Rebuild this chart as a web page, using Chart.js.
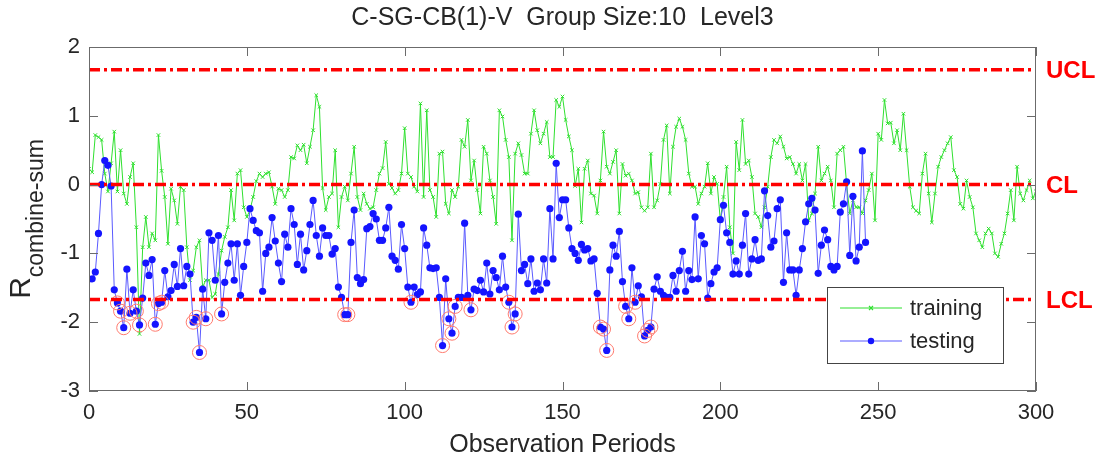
<!DOCTYPE html>
<html>
<head>
<meta charset="utf-8">
<script src="https://cdn.jsdelivr.net/npm/chart.js@4.4.1/dist/chart.umd.min.js"></script>
<style>
  html, body { margin: 0; padding: 0; background: #fff; }
  #wrap { width: 1106px; height: 462px; }
</style>
</head>
<body>
<div id="wrap"><canvas id="chart" width="1106" height="462"></canvas></div>
<script>
const titleText = 'C-SG-CB(1)-V  Group Size:10  Level3';
const xTitle = 'Observation Periods';
const yTitleMain = 'R';
const yTitleSub = 'combine-sum';

// training series, one value per period starting at period 0
const trainingStart = 0;
const trainingValues = [
  0.23, 0.18, 0.72, 0.69, 0.65, 0.16, -0.10, 0.31, 0.77, -0.10,
  0.50, -0.13, -0.28, 0.11, 0.31, -0.62, -2.17, -0.91, -0.47, -0.91,
  -0.71, -0.81, 0.72, 0.20, -0.18, -0.86, -0.06, -0.23, -0.57, -0.03,
  -0.08, -0.91, -1.39, -1.25, -0.91, -0.81, -1.49, -1.39, -1.39, -1.64,
  -1.59, -1.30, -0.96, -0.76, -0.62, -0.08, -0.52, 0.16, 0.21, -0.33,
  -0.47, -0.37, -0.18, 0.05, 0.16, 0.11, 0.16, 0.18, -0.03, -0.28,
  -0.06, -0.08, -0.18, -0.08, 0.40, 0.38, 0.57, 0.50, 0.58, 0.31,
  0.55, 0.79, 1.30, 1.13, -0.05, -0.37, -0.18, -0.13, 0.50, -0.62,
  -0.18, -0.03, -0.23, 0.16, 0.55, -0.18, -0.37, -0.13, -0.28, -0.35,
  -0.33, -0.08, 0.16, 0.24, 0.62, 0.01, -0.05, -0.13, -0.08, 0.16,
  0.82, 0.16, 0.11, -0.03, -0.10, 1.18, -0.18, 1.08, -0.08, -0.18,
  -0.47, 0.45, 0.48, -0.28, -0.42, -0.08, -0.18, -0.03, 0.65, 0.55,
  0.94, 0.06, 0.35, -0.08, -0.42, 0.55, 0.45, 0.06, -0.18, -0.57,
  1.08, 0.99, 0.65, 0.40, -0.81, 0.45, 0.60, 0.43, 0.16, 0.16,
  0.74, 1.08, 0.79, 0.60, 0.74, 0.91, 0.40, 0.40, 1.23, 1.13,
  1.28, 0.94, 0.70, 0.50, -0.02, 0.23, -0.55, 0.23, 0.35, -0.13,
  -0.16, -0.42, 0.06, 0.77, 0.26, 0.16, 0.33, 0.50, -0.42, 0.30,
  0.13, 0.16, 0.06, -0.13, -0.11, -0.33, -0.38, -0.33, 0.45, -0.33,
  -0.23, 0.01, 0.65, 0.86, -0.13, 0.55, 0.84, 0.96, 0.84, 0.65,
  0.16, -0.03, -0.03, -0.28, -0.13, -0.03, 0.31, -0.13, 0.11, 0.01,
  -0.52, -0.18, 0.26, -0.62, -1.00, 0.62, 0.21, 0.94, 0.30, 0.35,
  0.11, -0.42, -0.47, -0.62, -0.33, -0.03, 0.40, 0.65, 0.60, 0.70,
  0.55, 0.38, 0.40, 0.30, 0.16, 0.30, 0.06, 0.30, -0.52, -0.42,
  -0.13, 0.55, 0.06, 0.16, 0.26, 0.06, -0.33, 0.45, 0.50, 0.55,
  0.01, -0.42, -0.23, -0.33, -0.33, -0.42, -0.23, -0.08, 0.16, -0.52,
  0.74, 0.65, 1.23, 0.89, 0.90, 0.60, 0.79, 0.50, 1.03, 0.50,
  -0.03, -0.33, -0.38, -0.42, 0.16, 0.45, -0.13, -0.55, -0.13, 0.26,
  0.40, 0.50, 0.60, 0.69, 0.21, 0.11, -0.28, -0.35, 0.06, -0.18,
  -0.33, -0.71, -0.81, -0.91, -0.71, -0.64, -0.71, -1.00, -1.05, -0.86,
  -0.71, -0.42, -0.08, -0.52, 0.26, -0.13, -0.23, -0.08, 0.06, -0.20,
  -0.10
];

// testing series, one value per period starting at period 1
const testingStart = 1;
const testingValues = [
  -1.37, -1.27, -0.71, 0.00, 0.35, 0.28, -0.02,
  -1.53, -1.72, -1.84, -2.08, -1.23, -1.87, -1.53, -1.84, -2.04, -1.65,
  -1.14, -1.32, -1.09, -2.03, -1.73, -1.71, -1.25, -1.63, -1.54, -1.16,
  -1.48, -0.93, -1.47, -1.19, -1.30, -2.00, -1.93, -2.44, -1.52, -1.95,
  -0.70, -0.81, -1.39, -0.74, -1.88, -1.42, -1.14, -0.86, -1.39, -0.86,
  -1.61, -1.19, -0.84, -0.35, -0.52,
  -0.67, -0.70, -1.55, -1.00, -0.91, -0.48, -0.82, -1.14, -1.41, -0.72,
  -0.91, -0.35, -0.58, -1.16, -0.72, -1.24, -0.96, -0.58, -0.23, -0.74,
  -1.04, -0.63, -0.74, -0.74, -1.01, -0.93, -1.49, -1.64, -1.89, -1.89,
  -0.84, -0.37, -1.35, -1.44, -1.38, -0.64, -0.61, -0.42, -0.50, -0.81,
  -0.81, -0.63, -0.33, -1.04, -1.10, -1.23, -0.58, -0.93, -1.49, -1.71,
  -1.49, -1.60, -1.56, -0.63, -0.88, -1.21, -1.22, -1.21, -1.64, -2.34,
  -1.37, -1.95, -2.16, -1.77, -1.64, -1.64, -0.56, -1.61, -1.82, -1.52,
  -1.54, -1.39, -1.56, -1.14, -1.59, -1.25, -1.35, -1.53, -1.04, -1.49,
  -1.71, -2.07, -1.88, -0.43, -1.25, -1.16, -1.44, -1.08, -1.55, -1.43,
  -1.53, -1.08, -1.43, -0.35, -1.08, 0.31, -0.48, -0.22, -0.22, -0.63,
  -0.93,
  -1.00, -1.10, -0.87, -0.95, -0.93, -1.11, -1.08, -1.58, -2.07, -2.10,
  -2.41, -1.24, -0.88, -1.04, -0.68, -1.41, -1.77, -1.95, -1.21, -1.71,
  -1.47, -1.63, -2.20, -2.12, -2.07, -1.52, -1.34, -1.55, -1.61, -1.64,
  -1.64, -1.32, -1.55, -1.25, -0.97, -1.55, -1.25, -1.38, -0.47, -1.37,
  -0.74, -0.86, -1.65, -1.44, -1.27, -1.21, -0.51, -0.30, -0.70, -0.84,
  -1.30,
  -1.11, -1.30, -0.88, -0.42, -1.30, -1.08, -0.80, -1.10, -1.08, -0.09,
  -0.45, -0.91, -0.82, -0.35, -0.22, -1.42, -0.70, -1.24, -1.24, -1.61,
  -1.24, -0.93, -0.54, -0.28, -0.20, -0.37, -1.29, -0.88, -0.66, -0.80,
  -1.19, -1.24, -1.19, -0.40, -0.28, 0.04, -1.03, -0.17, -1.11, -0.91,
  0.49, -0.84
];

const controlNames = ['UCL', 'CL', 'LCL'];
const controlValues = [1.67, 0, -1.67];
const xTicks = [0, 50, 100, 150, 200, 250, 300];
const yTicks = [-3, -2, -1, 0, 1, 2];

const FONT = '"Liberation Sans", Arial, Helvetica, sans-serif';
const TEXT = '#262626';
const GREEN = '#2fe02f';
const BLUE = '#1414ff';
const RED = '#ff0000';

Chart.defaults.font.family = FONT;
Chart.defaults.color = TEXT;

const training = trainingValues.map((v, i) => ({ x: trainingStart + i, y: v }));
const testing = testingValues.map((v, i) => ({ x: testingStart + i, y: v }));
const lcl = controlValues[controlNames.indexOf('LCL')];
const outside = testing.filter(p => p.y < lcl);

const xMin = xTicks[0], xMax = xTicks[xTicks.length - 1];
const controlSets = controlValues.map((v, i) => ({
  label: controlNames[i],
  data: [{ x: xMin, y: v }, { x: xMax, y: v }],
  borderColor: RED,
  borderWidth: 3.5,
  borderDash: [11, 4, 3, 4],
  pointRadius: 0,
  order: 1
}));

// title, frame, inner ticks, limit labels, y title with subscript, boxed legend
const decor = {
  id: 'decor',
  afterDatasetsDraw(chart) {
    const { ctx, chartArea: a, scales: { x, y } } = chart;
    ctx.save();

    ctx.fillStyle = TEXT;
    ctx.font = '25px ' + FONT;
    ctx.textAlign = 'center';
    ctx.textBaseline = 'middle';
    ctx.fillText(titleText, (a.left + a.right) / 2, 18);

    ctx.strokeStyle = '#6b6b6b';
    ctx.lineWidth = 1;
    ctx.strokeRect(a.left + 0.5, a.top + 0.5, a.right - a.left - 1, a.bottom - a.top - 1);
    ctx.beginPath();
    xTicks.forEach(v => {
      const px = Math.round(x.getPixelForValue(v)) + 0.5;
      ctx.moveTo(px, a.bottom); ctx.lineTo(px, a.bottom - 9);
      ctx.moveTo(px, a.top); ctx.lineTo(px, a.top + 9);
    });
    yTicks.forEach(v => {
      const py = Math.round(y.getPixelForValue(v)) + 0.5;
      ctx.moveTo(a.left, py); ctx.lineTo(a.left + 9, py);
      ctx.moveTo(a.right, py); ctx.lineTo(a.right - 9, py);
    });
    ctx.stroke();

    // UCL / CL / LCL
    ctx.fillStyle = RED;
    ctx.font = 'bold 24px ' + FONT;
    ctx.textAlign = 'left';
    ctx.textBaseline = 'middle';
    controlValues.forEach((v, i) => {
      ctx.fillText(controlNames[i], a.right + 10, y.getPixelForValue(v) + 2);
    });

    // y title: R with subscript
    const mainFont = '30px ' + FONT, subFont = '23px ' + FONT;
    ctx.font = mainFont;
    const wMain = ctx.measureText(yTitleMain).width;
    ctx.font = subFont;
    const wSub = ctx.measureText(yTitleSub).width;
    const mid = (a.top + a.bottom) / 2;
    ctx.save();
    ctx.translate(30, mid + (wMain + wSub) / 2);
    ctx.rotate(-Math.PI / 2);
    ctx.fillStyle = TEXT;
    ctx.textBaseline = 'alphabetic';
    ctx.font = mainFont;
    ctx.fillText(yTitleMain, 0, 0);
    ctx.font = subFont;
    ctx.fillText(yTitleSub, wMain, 13);
    ctx.restore();

    // legend box
    const bw = 176, bh = 76;
    const bx = a.right - 33 - bw, by = a.bottom - 28 - bh;
    ctx.fillStyle = '#fff';
    ctx.fillRect(bx, by, bw, bh);
    ctx.strokeStyle = '#444';
    ctx.strokeRect(bx + 0.5, by + 0.5, bw, bh);
    const rows = [
      { name: 'training', color: GREEN, dot: false },
      { name: 'testing', color: '#5a5aff', dot: true }
    ];
    rows.forEach((r, i) => {
      const ry = by + 21 + i * 33;
      ctx.strokeStyle = r.color;
      ctx.lineWidth = 1.2;
      ctx.beginPath();
      ctx.moveTo(bx + 13, ry); ctx.lineTo(bx + 75, ry);
      ctx.stroke();
      const cx = bx + 44;
      if (r.dot) {
        ctx.fillStyle = BLUE;
        ctx.beginPath();
        ctx.arc(cx, ry, 3.2, 0, Math.PI * 2);
        ctx.fill();
      } else {
        ctx.beginPath();
        ctx.moveTo(cx - 2, ry - 2); ctx.lineTo(cx + 2, ry + 2);
        ctx.moveTo(cx - 2, ry + 2); ctx.lineTo(cx + 2, ry - 2);
        ctx.stroke();
      }
      ctx.fillStyle = TEXT;
      ctx.font = '22px ' + FONT;
      ctx.textBaseline = 'middle';
      ctx.fillText(r.name, bx + 83, ry + 1);
    });
    ctx.restore();
  }
};

new Chart(document.getElementById('chart'), {
  type: 'line',
  data: {
    datasets: [
      ...controlSets,
      {
        label: 'outside',
        data: outside,
        showLine: false,
        pointStyle: 'circle',
        pointRadius: 7,
        pointBackgroundColor: 'rgba(0,0,0,0)',
        pointBorderColor: '#ff7a6e',
        pointBorderWidth: 1,
        order: 2
      },
      {
        label: 'testing',
        data: testing,
        borderColor: '#5a5aff',
        borderWidth: 1,
        pointRadius: 3.6,
        pointBackgroundColor: BLUE,
        pointBorderColor: BLUE,
        pointBorderWidth: 0,
        tension: 0,
        order: 3
      },
      {
        label: 'training',
        data: training,
        borderColor: GREEN,
        borderWidth: 1,
        pointStyle: 'crossRot',
        pointRadius: 2.5,
        pointBorderColor: GREEN,
        pointBorderWidth: 1,
        tension: 0,
        order: 4
      }
    ]
  },
  options: {
    responsive: false,
    animation: false,
    devicePixelRatio: 1,
    layout: { padding: { left: 0, right: 70, top: 47, bottom: 0 } },
    plugins: {
      legend: { display: false },
      tooltip: { enabled: false },
      title: { display: false }
    },
    scales: {
      x: {
        type: 'linear',
        min: xMin,
        max: xMax,
        afterBuildTicks: s => { s.ticks = xTicks.map(v => ({ value: v })); },
        afterFit: s => { s.height = 71; },
        grid: { display: false, drawTicks: false },
        border: { display: false },
        ticks: { font: { size: 22 }, color: TEXT, padding: 9, maxRotation: 0 },
        title: {
          display: true,
          text: xTitle,
          color: TEXT,
          font: { size: 25 },
          padding: { top: 0, bottom: 2 }
        }
      },
      y: {
        min: yTicks[0],
        max: yTicks[yTicks.length - 1],
        afterBuildTicks: s => { s.ticks = yTicks.map(v => ({ value: v })); },
        afterFit: s => { s.width = 89; },
        grid: { display: false, drawTicks: false },
        border: { display: false },
        ticks: { font: { size: 22 }, color: TEXT, padding: 9 }
      }
    }
  },
  plugins: [decor]
});
</script>
</body>
</html>
